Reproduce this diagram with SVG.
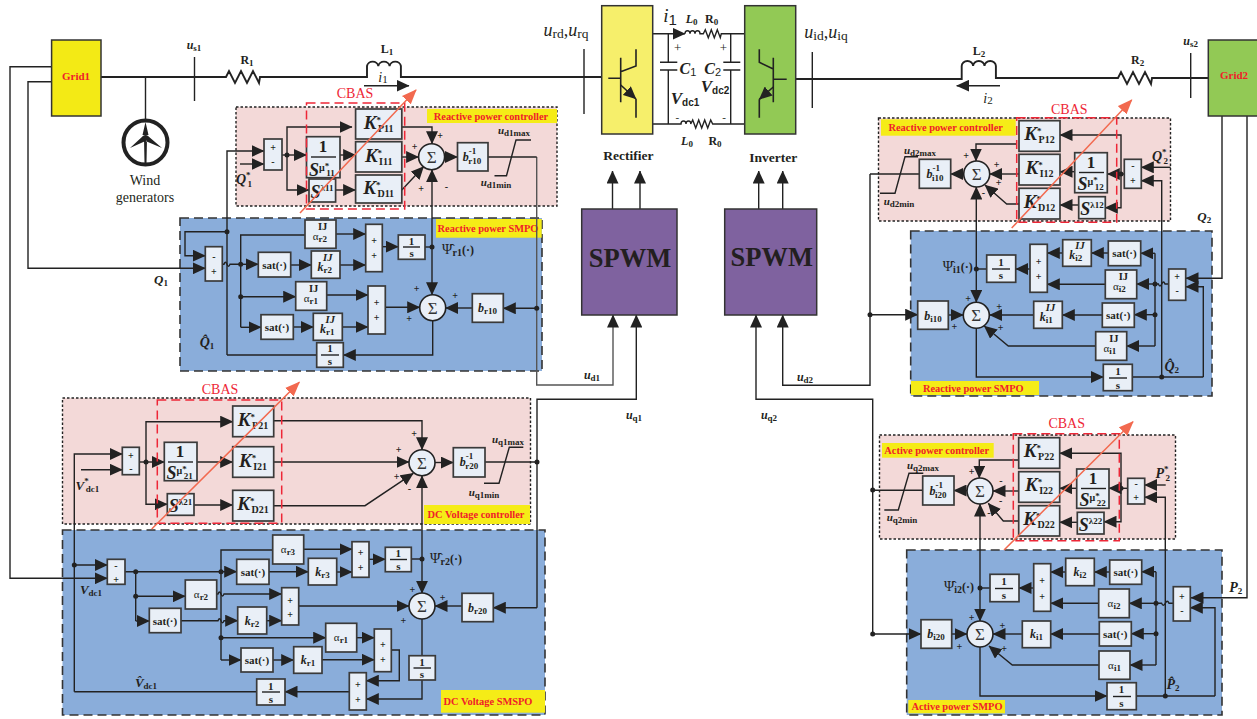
<svg xmlns="http://www.w3.org/2000/svg" width="1257" height="719" viewBox="0 0 1257 719">
<style>
text{font-family:"Liberation Serif","Times New Roman",serif;fill:#231f20;text-anchor:middle;font-weight:bold}
.pink{fill:#f3d9d8;stroke:#222;stroke-width:1.4;stroke-dasharray:2.5 2}
.blue{fill:#8aadda;stroke:#333;stroke-width:1.6;stroke-dasharray:9 5}
.yel{fill:#f5ec17}
.lab{fill:#f0202a;font-size:10.4px}
.b rect,rect.b{fill:#e9eff7;stroke:#3a3a3a;stroke-width:1.7}
.w{fill:none;stroke:#222;stroke-width:1.4}
.th{fill:none;stroke:#222;stroke-width:1.9}
.ig{fill:none;stroke:#222;stroke-width:1.6}
.ar{fill:none;stroke:#222;stroke-width:1.4;marker-end:url(#a)}
.dot{fill:#222}
.sum circle{fill:#e9eff7;stroke:#222;stroke-width:1.6}
.sum text{font-size:17px;font-weight:normal;fill:#333}
.p{font-size:10px}
.kk{font-size:19px;font-style:italic}
.su{font-size:9px;font-style:normal}
.sb{font-size:10px;font-style:normal}
.one{font-size:17px}
.big{font-size:18px;text-anchor:start;font-style:italic}
.ss{font-size:18px;font-style:italic}
.sat{font-size:11px}
.al{font-size:11px;font-weight:normal}
.ij{font-size:10.5px;font-weight:bold}
.lk{font-size:12px;font-style:italic}
.sl{font-size:9px;font-style:normal;font-weight:bold}
.v{font-size:12px;font-style:italic}
.ser{font-size:14px;font-weight:normal}
.cb{fill:#ee2737;font-size:14px;font-weight:normal}
.cbr{fill:none;stroke:#ee2737;stroke-width:1.5;stroke-dasharray:9 5}
.cba{fill:none;stroke:#f2694f;stroke-width:1.5;marker-end:url(#o)}
.spwm{font-size:26.5px}
.g{font-size:11px;fill:#f0202a}
.nm{font-size:13.5px}
.rr{font-size:12px}
.psi{font-size:14px;font-weight:normal}
.psb{font-size:10px;font-weight:bold}
.psp{font-size:12px;font-weight:bold}
.cap{font-size:16px;font-style:italic}
.vd{font-size:17px;font-style:italic}
.ssf{font-family:"Liberation Sans",sans-serif;font-style:normal}
</style>
<defs>
<marker id="a" markerUnits="userSpaceOnUse" markerWidth="13" markerHeight="12" refX="12.5" refY="6" orient="auto"><path d="M0 0L13 6L0 12z" fill="#222"/></marker>
<marker id="o" markerUnits="userSpaceOnUse" markerWidth="15" markerHeight="13" refX="14" refY="6.5" orient="auto"><path d="M0 .5L15 6.5L0 12.500z" fill="#f2694f"/></marker>
</defs>

<g id="panels">
<rect class="pink" x="236" y="107" width="321" height="99"/>
<rect class="blue" x="180" y="218" width="362" height="153"/>
<rect class="pink" x="62.500" y="398" width="468" height="126"/>
<rect class="blue" x="62.500" y="530" width="482.500" height="185"/>
<rect class="pink" x="878.500" y="118" width="292" height="103"/>
<rect class="blue" x="910.700" y="231" width="301.300" height="165"/>
<rect class="pink" x="879.500" y="435" width="296" height="104"/>
<rect class="blue" x="906.700" y="550" width="315.300" height="165"/>
<rect class="yel" x="427" y="109" width="130" height="14"/><text class="lab" x="491" y="120">Reactive power controller</text>
<rect class="yel" x="436" y="219" width="105.700" height="18.700"/><text class="lab" x="488" y="231.500">Reactive power SMPO</text>
<rect class="yel" x="424" y="505" width="106" height="19"/><text class="lab" x="476" y="518">DC Voltage controller</text>
<rect class="yel" x="441" y="690" width="104" height="22.700"/><text class="lab" x="488" y="705">DC Voltage SMSPO</text>
<rect class="yel" x="881" y="119.300" width="134.700" height="16.400"/><text class="lab" x="945.700" y="130.500">Reactive power controller</text>
<rect class="yel" x="911" y="381" width="128" height="14"/><text class="lab" x="973.300" y="392">Reactive power SMPO</text>
<rect class="yel" x="882" y="443" width="111.700" height="14.700"/><text class="lab" x="936.700" y="454">Active power controller</text>
<rect class="yel" x="908.300" y="700" width="96.700" height="13.300"/><text class="lab" x="957" y="710">Active power SMPO</text>
</g>

<g id="connectors">
<!-- power circuit -->
<path class="th" d="M101 77H226l3-6 6 12 6-12 6 12 6-12 6 12 1-6H367V66a5.700 5 0 0 1 11.300 0a5.700 5 0 0 1 11.300 0a5.700 5 0 0 1 11.300 0V77H601.700"/>
<path class="w" d="M145.500 77V122M194.500 57V101"/>
<path class="ar" d="M51.600 66.700H10V578.300H107.300"/>
<path class="ar" d="M51.600 81.700H28V268.300H205.300"/>
<path class="w" d="M584 49V114M812.300 52V108M1190.700 53V98"/>
<path class="th" d="M795.700 79H961.700V66a5.700 5 0 0 1 11.400 0a5.700 5 0 0 1 11.400 0a5.700 5 0 0 1 11.400 0V78H1118l3-6 6 12 6-12 6 12 6-12 6 12 1-6H1208.300"/>
<path class="ar" d="M1222 116V278.300H1186"/>
<path class="ar" d="M1247 116V597.700H1191"/>
<path class="ar" d="M364 85.700H409"/>
<path class="ar" d="M1000 85.700H956.700"/>
<path class="ar" d="M652.700 33.700H685"/>
<path class="w" d="M685 33.700q0-3 2.500-3t2.500 3q0-3 2.500-3t2.500 3q0-3 2.500-3t2.500 3H703.300l2-4 3 8 3-8 3 8 3-8 3 8 1-4H744.700"/>
<path class="w" d="M652.700 124H681q0-3 2.500-3t2.500 3q0-3 2.500-3t2.200 3l2-4 3 8 3-8 3 8 3-8 3 8 3-8 2 4H744.700"/>
<path class="w" d="M668.300 33.700V62.300M660 62.300H677.300M660 70H677.300M668.300 70V124M730.700 33.700V62.300M723.300 62.300H740.300M723.300 70H740.300M730.700 70V124"/>
<!-- SPWM -->
<path class="ar" d="M612.500 209V171"/><path class="ar" d="M640 209V171"/><path class="ar" d="M758.700 209V171"/><path class="ar" d="M782.700 209V171"/>
<path class="ar" style="stroke:#555" d="M536.700 157V385H613V315"/>
<path class="ar" d="M537 607.700V399.300H636.300V315"/>
<path class="ar" d="M872.700 634V399.300H756V315"/>
<path class="ar" d="M870 174V385.300H782.700V315"/>

<!-- reactive power controller 1 -->
<path class="ar" d="M227 355V151H264"/>
<path class="ar" d="M240 164H264"/>
<path class="w" d="M282 155H287"/>
<path class="ar" d="M287 155H306.500"/>
<path class="ar" d="M287 155V127H352"/>
<path class="ar" d="M287 155V190H309"/>
<path class="ar" d="M340 155H355.600"/><path class="ar" d="M335.600 190H355.600"/>
<path class="ar" d="M401.800 127H432V143.700"/>
<path class="ar" d="M401.800 157H418.600"/>
<path class="ar" d="M401.800 190L423.600 166.700"/>
<path class="ar" d="M444.600 157H457.500"/>
<path class="w" d="M488 157H536.700"/>
<path class="w" d="M531 140H516L506.500 175.700H494.500"/>
<path class="ar" d="M432 247V169.700"/>
<!-- SMPO 1 -->
<path class="ar" d="M227 231.700H185V255.700H205.300"/>
<path class="w" d="M222.300 264.300H224q1.500-4 3 0t3 0H240.700"/>
<path class="ar" d="M240.700 264.300H258.300"/>
<path class="w" d="M305 235H240.700V327.300"/>
<path class="ar" d="M240.700 296.700H295.700"/>
<path class="ar" d="M240.700 327.300H261"/>
<path class="ar" d="M290.700 265H311.300"/>
<path class="ar" d="M336 234H365.700"/>
<path class="ar" d="M340 265H365.700"/>
<path class="ar" d="M382.300 246.700H398.300"/>
<path class="w" d="M425 247H432"/>
<path class="ar" d="M432 247V294.700"/>
<path class="ar" d="M326.700 295H368"/>
<path class="ar" d="M293.300 327H313.300"/>
<path class="ar" d="M342.300 327H368"/>
<path class="ar" d="M385.300 307.300H419.700"/>
<path class="ar" d="M536.700 308.300H503.300"/>
<path class="ar" d="M472.300 308H445.700"/>
<path class="ar" d="M432.700 320.700V355H343.300"/>
<path class="w" d="M316.700 355H227"/>

<!-- DC voltage controller -->
<path class="ar" d="M74.300 691.700V454H122.300"/>
<path class="ar" d="M81 469.700H122.300"/>
<path class="w" d="M139.300 462H146"/>
<path class="ar" d="M146 462H164.300"/>
<path class="ar" d="M146 462V421.700H232.700"/>
<path class="ar" d="M146 462V504.300H167.300"/>
<path class="ar" d="M197 462H232.700"/><path class="ar" d="M194 505H232.700"/>
<path class="ar" d="M273.700 420.700H422V449.700"/>
<path class="ar" d="M273.700 462H409"/>
<path class="ar" d="M273.700 505.700H365L413.300 473.300"/>
<path class="ar" d="M435 462.500H453.300"/>
<path class="w" d="M485 462H537"/>
<path class="w" d="M523.300 447.300H509.300L499 483.300H484"/>
<path class="ar" d="M422 559V475.700"/>
<!-- DC SMSPO -->
<path class="ar" d="M74.300 565H107.300"/>
<path class="w" d="M125 571.700H221"/>
<path class="ar" d="M221 571.700H236.700"/>
<path class="w" d="M135.700 571.700V621"/>
<path class="ar" d="M135.700 596.300H185.300"/>
<path class="ar" d="M135.700 621H149.300"/>
<path class="w" d="M272.700 550H221V660"/>
<path class="ar" d="M269 571.700H308.300"/>
<path class="ar" d="M303.700 549.300H352"/>
<path class="ar" d="M336.700 572H352"/>
<path class="ar" d="M369 559.300H385.300"/>
<path class="w" d="M411.300 559H422"/>
<path class="ar" d="M422 559V593.300"/>
<path class="ar" d="M216.700 594H218q1.500-4 3 0t3 0H281.700"/>
<path class="ar" d="M181 620.700H218q1.500-4 3 0t3 0H237.700"/>
<path class="ar" d="M266.700 620.700H281.700"/>
<path class="ar" d="M298.700 606H409"/>
<path class="ar" d="M221 637.700H325.700"/>
<path class="ar" d="M221 660H241"/>
<path class="ar" d="M273 660H293.700"/>
<path class="ar" d="M356.700 637.700H374.300"/>
<path class="ar" d="M322 659.700H374.300"/>
<path class="ar" d="M391.300 650H399.300V680.700H366.300"/>
<path class="w" d="M422 619V655.700"/>
<path class="ar" d="M422 680V699H366.300"/>
<path class="ar" d="M349.300 691.700H285"/>
<path class="w" d="M256.700 691.700H74.300"/>
<path class="ar" d="M537 607.700H493.300"/>
<path class="ar" d="M462 606H435"/>

<!-- reactive power controller 2 -->
<path class="ar" d="M1170.700 167.300H1141.300"/>
<path class="ar" d="M1161.700 377V180.700H1141.300"/>
<path class="w" d="M1124.300 174H1121"/>
<path class="ar" d="M1121 174H1107.300"/>
<path class="ar" d="M1121 174V135H1060"/>
<path class="ar" d="M1121 174V207.700H1105.300"/>
<path class="ar" d="M1074.700 171.700H1060"/>
<path class="ar" d="M1078.700 205H1060"/>
<path class="ar" d="M1016 144H976V161"/>
<path class="ar" d="M1019 174H989.700"/>
<path class="ar" d="M1019 204H1006.700L985 185"/>
<path class="ar" d="M963.700 174H950.700"/>
<path class="w" d="M919.300 174H870"/>
<path class="w" d="M918 156.700H905L895 193.300H880"/>
<path class="ar" d="M976.300 269V187"/>
<!-- SMPO 2 -->
<path class="ar" d="M1203.300 377V286.700H1186"/>
<path class="w" d="M1168.700 284H1165q-1.500-4-3.300 0t-3.300 0H1155"/>
<path class="w" d="M1155 253.300V346"/>
<path class="ar" d="M1155 253.300H1140.700"/>
<path class="ar" d="M1108.300 253H1091.300"/>
<path class="ar" d="M1062.700 253H1047.300"/>
<path class="ar" d="M1030 269H1015.700"/>
<path class="w" d="M986.700 269H976.300"/>
<path class="ar" d="M976.300 269V302.300"/>
<path class="ar" d="M1155 284H1136.700"/>
<path class="ar" d="M1105.300 284.300H1047.300"/>
<path class="ar" d="M1155 314.700H1134.300"/>
<path class="ar" d="M1102.300 315H1062.300"/>
<path class="ar" d="M1033.700 315H989.700"/>
<path class="ar" d="M1155 346H1126.700"/>
<path class="ar" d="M1095.700 346H1008.300L984.300 326"/>
<path class="ar" d="M870 314.700H917.700"/>
<path class="ar" d="M948.300 315H963.300"/>
<path class="ar" d="M976.300 328.300V377H1103.300"/>
<path class="w" d="M1132.300 377H1203.300"/>

<!-- active power controller -->
<path class="ar" d="M1165.700 485H1144.700"/>
<path class="ar" d="M1165.300 696V497.300H1144.700"/>
<path class="w" d="M1127.700 488.300H1121"/>
<path class="ar" d="M1121 488.300H1109"/>
<path class="ar" d="M1121 488.300V453.300H1059.700"/>
<path class="ar" d="M1121 488.300V521.700H1104"/>
<path class="ar" d="M1076.700 488.300H1059.700"/>
<path class="ar" d="M1077.300 522.300H1059.700"/>
<path class="ar" d="M1018.700 460H979.300V478"/>
<path class="ar" d="M1018.700 491H993"/>
<path class="ar" d="M1018.700 521H1003.300L988.300 503.300"/>
<path class="ar" d="M967 490.500H954"/>
<path class="w" d="M922.700 490.300H872.700"/>
<path class="w" d="M923.300 473.300H909L898.300 510H884.300"/>
<path class="ar" d="M980 588V504"/>
<!-- SMPO active -->
<path class="ar" d="M1215 696V607.700H1190.300"/>
<path class="w" d="M1173.300 603.300H1169q-1.700-4-3.700 0t-3.700 0H1156"/>
<path class="w" d="M1156 571.700V665"/>
<path class="ar" d="M1156 571.700H1141.700"/>
<path class="ar" d="M1109.700 572H1094.300"/>
<path class="ar" d="M1065.700 572H1050.700"/>
<path class="ar" d="M1033.700 588H1019"/>
<path class="w" d="M990 588H980"/>
<path class="ar" d="M980 588V621"/>
<path class="ar" d="M1156 603.300H1129.300"/>
<path class="ar" d="M1098.700 603.300H1050.700"/>
<path class="ar" d="M1156 633.700H1131.300"/>
<path class="ar" d="M1099.300 634H1050.700"/>
<path class="ar" d="M1022.300 634H993"/>
<path class="ar" d="M1156 665H1130"/>
<path class="ar" d="M1099 665H1012.300L989 646"/>
<path class="ar" d="M872.700 634H921"/>
<path class="ar" d="M951.700 634H967"/>
<path class="ar" d="M980 647V696H1107"/>
<path class="w" d="M1136.300 696H1215"/>
<!-- junctions -->
<g class="dot">
<circle cx="287" cy="155" r="2.500"/><circle cx="227" cy="231.700" r="2.500"/><circle cx="240.700" cy="264.300" r="2.500"/><circle cx="240.700" cy="296.700" r="2.500"/><circle cx="432" cy="247" r="2.500"/><circle cx="536.700" cy="308.300" r="2.500"/>
<circle cx="146" cy="462" r="2.500"/><circle cx="537" cy="462" r="2.500"/><circle cx="74.300" cy="565" r="2.500"/><circle cx="135.700" cy="571.700" r="2.500"/><circle cx="135.700" cy="596.300" r="2.500"/><circle cx="221" cy="571.700" r="2.500"/><circle cx="221" cy="637.700" r="2.500"/><circle cx="422" cy="559" r="2.500"/>
<circle cx="1121" cy="174" r="2.500"/><circle cx="870" cy="314.700" r="2.500"/><circle cx="976.300" cy="269" r="2.500"/><circle cx="1155" cy="284" r="2.500"/><circle cx="1155" cy="314.700" r="2.500"/><circle cx="1161.700" cy="377" r="2.500"/>
<circle cx="1121" cy="488.300" r="2.500"/><circle cx="872.700" cy="490" r="2.500"/><circle cx="872.700" cy="634" r="2.500"/><circle cx="980" cy="588" r="2.500"/><circle cx="1156" cy="603.300" r="2.500"/><circle cx="1156" cy="633.700" r="2.500"/><circle cx="1165.300" cy="696" r="2.500"/>
</g>
</g>

<g id="grid1"><rect x="51.600" y="40" width="49.400" height="76" fill="#f3ea15" stroke="#333" stroke-width="1.5"/><text class="g" x="76" y="80">Grid1</text></g>
<g id="grid2"><rect x="1208.300" y="40" width="50" height="76" fill="#92c955" stroke="#333" stroke-width="1.5"/><text class="g" x="1234" y="79">Grid2</text></g>
<g id="wind"><circle cx="145.500" cy="142.500" r="22" fill="#fff" stroke="#222" stroke-width="4"/><path d="M145.500 122L148.500 135H142.500zM130 148L143 136L145.500 141zM162 148L148 136L145.500 141zM144 138H147L146.500 163H144.500z" fill="#222"/><circle cx="145.500" cy="138" r="3" fill="#222"/><text class="ser" x="145" y="185">Wind</text><text class="ser" x="145" y="202">generators</text></g>
<g id="rectifier"><rect x="601.700" y="5.700" width="51" height="128.300" fill="#f6ef6b" stroke="#333" stroke-width="1.5"/>
<path class="ig" d="M620.700 57.700V102.300M608.300 78.300H620.700M620.700 71.700L636 66V49.300M636 99V117.700"/><path class="ig" d="M620.700 85L636 99" marker-end="url(#a)"/><text class="nm" x="628.300" y="160">Rectifier</text></g>
<g id="inverter"><rect x="744.700" y="5.700" width="51" height="128.300" fill="#92c955" stroke="#333" stroke-width="1.5"/>
<path class="ig" d="M773.300 57.700V102.300M786.700 79.300H773.300M773.300 69L759.300 62.300V49.300M759.300 99.300V117.700"/><path class="ig" d="M773.300 87L759.300 99.300" marker-end="url(#a)"/><text class="nm" x="773.300" y="162">Inverter</text></g>
<g id="spwm1"><rect x="581.700" y="209" width="95.300" height="106" fill="#7f629f" stroke="#333" stroke-width="1.5"/><text class="spwm" x="630" y="267">SPWM</text></g>
<g id="spwm2"><rect x="724.700" y="209" width="92" height="106" fill="#7f629f" stroke="#333" stroke-width="1.5"/><text class="spwm" x="771.700" y="266">SPWM</text></g>

<!-- Controller 1 -->
<g class="b" id="pm11"><rect x="264" y="139" width="18" height="31"/><text class="p" x="273" y="151">+</text><text class="p" x="273" y="165">-</text></g>
<g class="b" id="fo11"><rect x="306.500" y="136.700" width="33.500" height="41"/><text class="one" x="323" y="151.500">1</text><path class="w" d="M311 157H336"/><text class="big" x="309" y="175.500">S<tspan class="sb" dy="-5">μ</tspan><tspan class="su" dy="-2">*</tspan><tspan class="su" dx="-3" dy="7">11</tspan></text></g>
<g class="b" id="sl11"><rect x="309" y="179" width="26.600" height="23"/><text class="ss" x="322" y="198">S<tspan class="su" dy="-7">λ11</tspan></text></g>
<g class="b" id="kp11"><rect x="355.600" y="109" width="46.200" height="30"/><text class="kk" x="378.700" y="129">K<tspan class="su" dy="-6">*</tspan><tspan class="sb" dx="-3" dy="9">P11</tspan></text></g>
<g class="b" id="ki11"><rect x="355.600" y="141.700" width="46.200" height="30.300"/><text class="kk" x="378.700" y="162">K<tspan class="su" dy="-6">*</tspan><tspan class="sb" dx="-3" dy="9">I11</tspan></text></g>
<g class="b" id="kd11"><rect x="355.600" y="175" width="46.200" height="28"/><text class="kk" x="378.700" y="194">K<tspan class="su" dy="-6">*</tspan><tspan class="sb" dx="-3" dy="9">D11</tspan></text></g>
<g class="sum" id="sum11"><circle cx="431.600" cy="156.700" r="13"/><text x="431.600" y="162.500">Σ</text></g>
<g class="b" id="br10i"><rect x="457.500" y="142.700" width="30.500" height="28.300"/><text class="lk" x="472" y="161">b<tspan class="sl" dy="-7">-1</tspan><tspan class="sl" dx="-8" dy="10">r10</tspan></text></g>
<!-- SMPO 1 -->
<g class="b" id="mp1"><rect x="205.300" y="246.700" width="17" height="34.300"/><text class="p" x="213.800" y="260">-</text><text class="p" x="213.800" y="275">+</text></g>
<g class="b" id="ar2"><rect x="305" y="220" width="31" height="28.300"/><text class="al" x="320" y="240">α<tspan class="sl" dy="2">r2</tspan><tspan class="ij" dx="-9" dy="-12">IJ</tspan></text></g>
<g class="b" id="sat1"><rect x="258.300" y="252.300" width="32.400" height="24.700"/><text class="sat" x="274.500" y="268.500">sat(·)</text></g>
<g class="b" id="kr2"><rect x="311.300" y="251" width="28.700" height="27.300"/><text class="lk" x="325" y="271">k<tspan class="sl" dy="2">r2</tspan><tspan class="ij" dx="-9" dy="-12">IJ</tspan></text></g>
<g class="b" id="pp1"><rect x="365.700" y="224.300" width="16.600" height="47.400"/><text class="p" x="374" y="244">+</text><text class="p" x="374" y="259">+</text></g>
<g class="b" id="int1"><rect x="398.300" y="235" width="26.700" height="24.300"/><text class="sat" x="411.600" y="244.500">1</text><path class="w" d="M403 247H420"/><text class="sat" x="411.600" y="257">s</text></g>
<g class="b" id="ar1"><rect x="295.700" y="281.700" width="31" height="28.600"/><text class="al" x="311" y="302">α<tspan class="sl" dy="2">r1</tspan><tspan class="ij" dx="-9" dy="-12">IJ</tspan></text></g>
<g class="b" id="sat2"><rect x="261" y="314.700" width="32.300" height="24.600"/><text class="sat" x="277" y="331">sat(·)</text></g>
<g class="b" id="kr1"><rect x="313.300" y="313.300" width="29" height="27"/><text class="lk" x="327.500" y="333">k<tspan class="sl" dy="2">r1</tspan><tspan class="ij" dx="-9" dy="-12">IJ</tspan></text></g>
<g class="b" id="pp2"><rect x="368" y="286" width="17.300" height="48"/><text class="p" x="376.600" y="306">+</text><text class="p" x="376.600" y="321">+</text></g>
<g class="sum" id="sum12"><circle cx="432.700" cy="307.700" r="13"/><text x="432.700" y="313.500">Σ</text></g>
<g class="b" id="br10"><rect x="472.300" y="293.700" width="31" height="28.600"/><text class="lk" x="487.500" y="312">b<tspan class="sl" dy="2">r10</tspan></text></g>
<g class="b" id="int2"><rect x="316.700" y="342.700" width="26.600" height="24.600"/><text class="sat" x="330" y="352">1</text><path class="w" d="M321 355H339"/><text class="sat" x="330" y="365">s</text></g>

<!-- DC controller -->
<g class="b" id="pm21"><rect x="122.300" y="447.300" width="17" height="27.400"/><text class="p" x="130.800" y="458.500">+</text><text class="p" x="130.800" y="472">-</text></g>
<g class="b" id="fo21"><rect x="164.300" y="442.300" width="32.700" height="38.400"/><text class="one" x="180" y="456.500">1</text><path class="w" d="M168 462H193"/><text class="big" x="166.500" y="478.500">S<tspan class="sb" dy="-5">μ</tspan><tspan class="su" dy="-2">*</tspan><tspan class="su" dx="-3" dy="7">21</tspan></text></g>
<g class="b" id="sl21"><rect x="167.300" y="493.700" width="26.700" height="21.600"/><text class="ss" x="180.500" y="512">S<tspan class="su" dy="-7">λ21</tspan></text></g>
<g class="b" id="kp21"><rect x="232.700" y="406" width="41" height="30.700"/><text class="kk" x="253" y="426">K<tspan class="su" dy="-6">*</tspan><tspan class="sb" dx="-3" dy="9">P21</tspan></text></g>
<g class="b" id="ki21"><rect x="232.700" y="446.700" width="41" height="30.600"/><text class="kk" x="253" y="467">K<tspan class="su" dy="-6">*</tspan><tspan class="sb" dx="-3" dy="9">I21</tspan></text></g>
<g class="b" id="kd21"><rect x="232.700" y="490.300" width="41" height="30.700"/><text class="kk" x="253" y="510">K<tspan class="su" dy="-6">*</tspan><tspan class="sb" dx="-3" dy="9">D21</tspan></text></g>
<g class="sum" id="sum21"><circle cx="422" cy="462.700" r="13"/><text x="422" y="468.500">Σ</text></g>
<g class="b" id="br20i"><rect x="453.300" y="447.700" width="31.700" height="29.300"/><text class="lk" x="469" y="466">b<tspan class="sl" dy="-7">-1</tspan><tspan class="sl" dx="-8" dy="10">r20</tspan></text></g>
<!-- DC SMSPO -->
<g class="b" id="mp3"><rect x="107.300" y="559.300" width="17.700" height="25"/><text class="p" x="116" y="569">-</text><text class="p" x="116" y="583">+</text></g>
<g class="b" id="a3"><rect x="272.700" y="535" width="31" height="29"/><text class="al" x="288" y="553">α<tspan class="sl" dy="2">r3</tspan></text></g>
<g class="b" id="sat3"><rect x="236.700" y="559.300" width="32.300" height="25"/><text class="sat" x="253" y="576">sat(·)</text></g>
<g class="b" id="k3"><rect x="308.300" y="558.300" width="28.400" height="26.700"/><text class="lk" x="322.500" y="576">k<tspan class="sl" dy="2">r3</tspan></text></g>
<g class="b" id="pp3"><rect x="352" y="541.700" width="17" height="35.600"/><text class="p" x="360.500" y="556">+</text><text class="p" x="360.500" y="571">+</text></g>
<g class="b" id="int3"><rect x="385.300" y="547.300" width="26" height="24.400"/><text class="sat" x="398.300" y="557">1</text><path class="w" d="M390 559.500H407"/><text class="sat" x="398.300" y="570">s</text></g>
<g class="b" id="a2"><rect x="185.300" y="580" width="31.400" height="29"/><text class="al" x="201" y="598">α<tspan class="sl" dy="2">r2</tspan></text></g>
<g class="b" id="sat4"><rect x="149.300" y="608.300" width="31.700" height="24.400"/><text class="sat" x="165" y="624.500">sat(·)</text></g>
<g class="b" id="k2"><rect x="237.700" y="607" width="29" height="27"/><text class="lk" x="252" y="625">k<tspan class="sl" dy="2">r2</tspan></text></g>
<g class="b" id="pp4"><rect x="281.700" y="587.700" width="17" height="37.300"/><text class="p" x="290.200" y="603.500">+</text><text class="p" x="290.200" y="618">+</text></g>
<g class="sum" id="sum22"><circle cx="422" cy="606" r="13"/><text x="422" y="612">Σ</text></g>
<g class="b" id="br20"><rect x="462" y="593.300" width="31.300" height="28.400"/><text class="lk" x="477.500" y="612">b<tspan class="sl" dy="2">r20</tspan></text></g>
<g class="b" id="a1"><rect x="325.700" y="623.300" width="31" height="28.700"/><text class="al" x="341" y="641">α<tspan class="sl" dy="2">r1</tspan></text></g>
<g class="b" id="sat5"><rect x="241" y="648" width="32" height="24"/><text class="sat" x="257" y="664">sat(·)</text></g>
<g class="b" id="k1"><rect x="293.700" y="646.700" width="28.300" height="26.600"/><text class="lk" x="308" y="664">k<tspan class="sl" dy="2">r1</tspan></text></g>
<g class="b" id="pp5"><rect x="374.300" y="629" width="17" height="42.700"/><text class="p" x="382.800" y="647.500">+</text><text class="p" x="382.800" y="662.500">+</text></g>
<g class="b" id="int4"><rect x="409" y="655.700" width="26.300" height="24.300"/><text class="sat" x="422" y="665.500">1</text><path class="w" d="M413.500 668H431"/><text class="sat" x="422" y="678">s</text></g>
<g class="b" id="pp6"><rect x="349.300" y="672.700" width="17" height="37.300"/><text class="p" x="357.800" y="688">+</text><text class="p" x="357.800" y="703">+</text></g>
<g class="b" id="int5"><rect x="256.700" y="679" width="28.300" height="26"/><text class="sat" x="270.800" y="689.500">1</text><path class="w" d="M262 692H280"/><text class="sat" x="270.800" y="703">s</text></g>

<!-- Controller 2 -->
<g class="b" id="kp12"><rect x="1019" y="120.700" width="41" height="30.600"/><text class="kk" x="1039.500" y="140">K<tspan class="su" dy="-6">*</tspan><tspan class="sb" dx="-3" dy="9">P12</tspan></text></g>
<g class="b" id="ki12"><rect x="1019" y="154.300" width="41" height="30.700"/><text class="kk" x="1039.500" y="174">K<tspan class="su" dy="-6">*</tspan><tspan class="sb" dx="-3" dy="9">I12</tspan></text></g>
<g class="b" id="kd12"><rect x="1019" y="188.300" width="41" height="30.700"/><text class="kk" x="1039.500" y="208">K<tspan class="su" dy="-6">*</tspan><tspan class="sb" dx="-3" dy="9">D12</tspan></text></g>
<g class="b" id="fo12"><rect x="1074.700" y="152.700" width="32.600" height="40"/><text class="one" x="1091" y="167.500">1</text><path class="w" d="M1079 172.500H1104"/><text class="big" x="1077.500" y="190">S<tspan class="sb" dy="-5">μ</tspan><tspan class="su" dy="-2">*</tspan><tspan class="su" dx="-3" dy="7">12</tspan></text></g>
<g class="b" id="sl12"><rect x="1078.700" y="196.700" width="26.600" height="22"/><text class="ss" x="1092" y="215">S<tspan class="su" dy="-7">λ12</tspan></text></g>
<g class="b" id="mp12"><rect x="1124.300" y="159.300" width="17" height="29"/><text class="p" x="1132.800" y="168.500">-</text><text class="p" x="1132.800" y="183.500">+</text></g>
<g class="sum" id="sum31"><circle cx="976.700" cy="174" r="13"/><text x="976.700" y="180">Σ</text></g>
<g class="b" id="bi10i"><rect x="919.300" y="159.300" width="31.400" height="29"/><text class="lk" x="935" y="178">b<tspan class="sl" dy="-7">-1</tspan><tspan class="sl" dx="-8" dy="10">i10</tspan></text></g>
<!-- SMPO 2 -->
<g class="b" id="mp4"><rect x="1168.700" y="269" width="17" height="31.300"/><text class="p" x="1177.200" y="280">+</text><text class="p" x="1177.200" y="294">-</text></g>
<g class="b" id="sat6"><rect x="1108.300" y="241" width="32.400" height="24.700"/><text class="sat" x="1124.500" y="257">sat(·)</text></g>
<g class="b" id="ki2a"><rect x="1062.700" y="239.700" width="28.600" height="26.600"/><text class="lk" x="1077" y="259">k<tspan class="sl" dy="2">i2</tspan><tspan class="ij" dx="-7" dy="-12">IJ</tspan></text></g>
<g class="b" id="pp7"><rect x="1030" y="244.300" width="17.300" height="48"/><text class="p" x="1038.700" y="265">+</text><text class="p" x="1038.700" y="279.500">+</text></g>
<g class="b" id="int6"><rect x="986.700" y="255" width="29" height="27.300"/><text class="sat" x="1001" y="265.500">1</text><path class="w" d="M992 269H1010"/><text class="sat" x="1001" y="279">s</text></g>
<g class="b" id="ai2a"><rect x="1105.300" y="270" width="31.400" height="28.700"/><text class="al" x="1120.500" y="290">α<tspan class="sl" dy="2">i2</tspan><tspan class="ij" dx="-7" dy="-12">IJ</tspan></text></g>
<g class="b" id="sat7"><rect x="1102.300" y="303" width="32" height="24.300"/><text class="sat" x="1118.300" y="319">sat(·)</text></g>
<g class="b" id="ki1a"><rect x="1033.700" y="301.300" width="28.600" height="27"/><text class="lk" x="1047.500" y="321">k<tspan class="sl" dy="2">i1</tspan><tspan class="ij" dx="-7" dy="-12">IJ</tspan></text></g>
<g class="b" id="ai1a"><rect x="1095.700" y="331.700" width="31" height="28.600"/><text class="al" x="1111" y="352">α<tspan class="sl" dy="2">i1</tspan><tspan class="ij" dx="-7" dy="-12">IJ</tspan></text></g>
<g class="sum" id="sum32"><circle cx="976.300" cy="315.300" r="13"/><text x="976.300" y="321">Σ</text></g>
<g class="b" id="bi10"><rect x="917.700" y="301" width="30.600" height="28.300"/><text class="lk" x="933" y="319.500">b<tspan class="sl" dy="2">i10</tspan></text></g>
<g class="b" id="int7"><rect x="1103.300" y="364.300" width="29" height="26.400"/><text class="sat" x="1118" y="375">1</text><path class="w" d="M1109 378H1127"/><text class="sat" x="1118" y="388.500">s</text></g>

<!-- Active controller -->
<g class="b" id="kp22"><rect x="1018.700" y="437.700" width="41" height="30.600"/><text class="kk" x="1039" y="457">K<tspan class="su" dy="-6">*</tspan><tspan class="sb" dx="-3" dy="9">P22</tspan></text></g>
<g class="b" id="ki22"><rect x="1018.700" y="471.700" width="41" height="30.600"/><text class="kk" x="1039" y="491">K<tspan class="su" dy="-6">*</tspan><tspan class="sb" dx="-3" dy="9">I22</tspan></text></g>
<g class="b" id="kd22"><rect x="1018.700" y="505.700" width="41" height="30.300"/><text class="kk" x="1039" y="525">K<tspan class="su" dy="-6">*</tspan><tspan class="sb" dx="-3" dy="9">D22</tspan></text></g>
<g class="b" id="fo22"><rect x="1076.700" y="469" width="32.300" height="39.300"/><text class="one" x="1093" y="483.500">1</text><path class="w" d="M1081 488.500H1106"/><text class="big" x="1079.500" y="505.500">S<tspan class="sb" dy="-5">μ</tspan><tspan class="su" dy="-2">*</tspan><tspan class="su" dx="-3" dy="7">22</tspan></text></g>
<g class="b" id="sl22"><rect x="1077.300" y="512.300" width="26.700" height="21.700"/><text class="ss" x="1090.500" y="531">S<tspan class="su" dy="-7">λ22</tspan></text></g>
<g class="b" id="mp22"><rect x="1127.700" y="478.300" width="17" height="25.700"/><text class="p" x="1136.200" y="486.500">-</text><text class="p" x="1136.200" y="501">+</text></g>
<g class="sum" id="sum41"><circle cx="980" cy="491" r="13"/><text x="980" y="497">Σ</text></g>
<g class="b" id="bi20i"><rect x="922.700" y="476" width="31.300" height="29"/><text class="lk" x="938" y="495">b<tspan class="sl" dy="-7">-1</tspan><tspan class="sl" dx="-8" dy="10">i20</tspan></text></g>
<!-- SMPO active -->
<g class="b" id="mp5"><rect x="1173.300" y="586.700" width="17" height="34.300"/><text class="p" x="1181.800" y="599.500">+</text><text class="p" x="1181.800" y="614">-</text></g>
<g class="b" id="sat8"><rect x="1109.700" y="560" width="32" height="24.300"/><text class="sat" x="1125.700" y="576">sat(·)</text></g>
<g class="b" id="ki2"><rect x="1065.700" y="558.300" width="28.600" height="27.400"/><text class="lk" x="1080" y="576">k<tspan class="sl" dy="2">i2</tspan></text></g>
<g class="b" id="pp8"><rect x="1033.700" y="563.700" width="17" height="47.600"/><text class="p" x="1042.200" y="584">+</text><text class="p" x="1042.200" y="599.500">+</text></g>
<g class="b" id="int8"><rect x="990" y="574.300" width="29" height="27.400"/><text class="sat" x="1004" y="585">1</text><path class="w" d="M995 588.500H1013"/><text class="sat" x="1004" y="599">s</text></g>
<g class="b" id="ai2"><rect x="1098.700" y="589" width="30.600" height="28.700"/><text class="al" x="1114" y="607">α<tspan class="sl" dy="2">i2</tspan></text></g>
<g class="b" id="sat9"><rect x="1099.300" y="621.700" width="32" height="24.300"/><text class="sat" x="1115.300" y="638">sat(·)</text></g>
<g class="b" id="ki1"><rect x="1022.300" y="621" width="28.400" height="26.700"/><text class="lk" x="1036.500" y="638">k<tspan class="sl" dy="2">i1</tspan></text></g>
<g class="b" id="ai1"><rect x="1099" y="651" width="31" height="28.300"/><text class="al" x="1114.500" y="669">α<tspan class="sl" dy="2">i1</tspan></text></g>
<g class="sum" id="sum42"><circle cx="980" cy="634" r="13"/><text x="980" y="640">Σ</text></g>
<g class="b" id="bi20"><rect x="921" y="619.700" width="30.700" height="28.600"/><text class="lk" x="936" y="638">b<tspan class="sl" dy="2">i20</tspan></text></g>
<g class="b" id="int9"><rect x="1107" y="682.700" width="29.300" height="27"/><text class="sat" x="1121.500" y="693">1</text><path class="w" d="M1113 696.500H1131"/><text class="sat" x="1121.500" y="707">s</text></g>

<!-- CBAS -->
<g id="cbas">
<rect class="cbr" x="306.500" y="103" width="98.200" height="106"/><path class="cba" d="M300 213L416 90"/><text class="cb" x="355" y="98">CBAS</text>
<rect class="cbr" x="157.300" y="400" width="124.400" height="123.300"/><path class="cba" d="M151.700 529L299.300 382.300"/><text class="cb" x="220" y="394">CBAS</text>
<rect class="cbr" x="1016.700" y="117.700" width="100" height="104.600"/><path class="cba" d="M1011.700 228L1131.700 100"/><text class="cb" x="1069.300" y="114">CBAS</text>
<rect class="cbr" x="1013.300" y="433.700" width="106" height="107"/><path class="cba" d="M1004 550L1133 421.700"/><text class="cb" x="1066.700" y="428">CBAS</text>
</g>

<!-- Labels -->
<g id="labels">
<text class="v" x="194" y="49">u<tspan class="sl" dy="2">s1</tspan></text>
<text class="rr" x="247" y="64">R<tspan class="sl" dy="2">1</tspan></text>
<text class="rr" x="387" y="53">L<tspan class="sl" dy="2">1</tspan></text>
<text x="383" y="82" style="font-size:14px;font-style:italic;font-weight:normal">i<tspan style="font-size:11px;font-style:normal" dy="1">1</tspan></text>
<text x="566" y="36" style="font-size:18px;font-style:italic;font-weight:normal">u<tspan style="font-size:13.500px;font-style:normal" dy="2">rd</tspan><tspan dy="-2" style="font-style:normal">,</tspan>u<tspan style="font-size:13.500px;font-style:normal" dy="2">rq</tspan></text>
<text x="826" y="38" style="font-size:18px;font-style:italic;font-weight:normal">u<tspan style="font-size:13.500px;font-style:normal" dy="2">id</tspan><tspan dy="-2" style="font-style:normal">,</tspan>u<tspan style="font-size:13.500px;font-style:normal" dy="2">iq</tspan></text>
<text x="670" y="22" style="font-size:19px;font-style:italic;font-weight:normal">i<tspan class="ssf" style="font-size:15px" dy="3">1</tspan></text>
<text class="rr" x="691.700" y="23" style="font-style:italic">L<tspan class="sl" dy="2">0</tspan></text>
<text class="rr" x="711.700" y="23">R<tspan class="sl" dy="2">0</tspan></text>
<text x="677.700" y="52" style="font-size:13px;font-weight:normal">+</text><text x="723.300" y="52" style="font-size:13px;font-weight:normal">+</text>
<text class="cap" x="688" y="74">C<tspan class="ssf" style="font-size:11px;font-weight:normal" dy="2">1</tspan></text>
<text class="cap" x="712.700" y="74">C<tspan class="ssf" style="font-size:11px;font-weight:normal" dy="2">2</tspan></text>
<text class="vd" x="715" y="92">V<tspan class="ssf" style="font-size:10px" dy="2">dc2</tspan></text>
<text class="vd" x="685" y="104">V<tspan class="ssf" style="font-size:10px" dy="2">dc1</tspan></text>
<text x="677.300" y="121" style="font-size:11px;font-weight:normal">-</text><text x="724" y="121" style="font-size:11px;font-weight:normal">-</text>
<text class="rr" x="687" y="145" style="font-style:italic">L<tspan class="sl" dy="2">0</tspan></text>
<text class="rr" x="715" y="145">R<tspan class="sl" dy="2">0</tspan></text>
<text class="v" x="592" y="379">u<tspan class="sl" dy="2">d1</tspan></text>
<text class="v" x="634" y="419">u<tspan class="sl" dy="2">q1</tspan></text>
<text class="v" x="769" y="419">u<tspan class="sl" dy="2">q2</tspan></text>
<text class="v" x="805" y="381">u<tspan class="sl" dy="2">d2</tspan></text>
<text class="rr" x="979" y="55">L<tspan class="sl" dy="2">2</tspan></text>
<text class="rr" x="1137.700" y="64">R<tspan class="sl" dy="2">2</tspan></text>
<text x="988" y="103" style="font-size:14px;font-style:italic;font-weight:normal">i<tspan style="font-size:11px;font-style:normal" dy="1">2</tspan></text>
<text class="v" x="1190.700" y="45">u<tspan class="sl" dy="2">s2</tspan></text>
<text class="v" x="244" y="184" style="font-size:14px">Q<tspan class="su" dy="-6">*</tspan><tspan class="su" dx="-3" dy="9">1</tspan></text>
<text class="v" x="514" y="134" style="font-size:11px">u<tspan class="sl" dy="2">d1max</tspan></text>
<text class="v" x="496" y="186" style="font-size:11px">u<tspan class="sl" dy="2">d1min</tspan></text>
<text class="p" x="440" y="138.500">+</text><text class="p" x="414.500" y="150">+</text><text class="p" x="421" y="191.500">+</text><text class="p" x="446.500" y="189.500">-</text>
<text class="v" x="161" y="284" style="font-size:13px">Q<tspan class="sl" dy="2">1</tspan></text>
<text class="v" x="207" y="347" style="font-size:14px">Q&#770;<tspan class="sl" dy="2">1</tspan></text>
<text class="psi" x="458" y="254">&#936;&#770;<tspan class="psb" dy="2">r1</tspan><tspan class="psp" dy="-2">(·)</tspan></text>
<text class="p" x="416.700" y="291.500">+</text><text class="p" x="455" y="298.500">+</text><text class="p" x="409" y="321.500">+</text>
<text class="v" x="87.300" y="490" style="font-size:13px">V<tspan class="su" dy="-6">*</tspan><tspan class="sl" dx="-3" dy="8">dc1</tspan></text>
<text class="v" x="508" y="443" style="font-size:11px">u<tspan class="sl" dy="2">q1max</tspan></text>
<text class="v" x="484" y="496" style="font-size:11px">u<tspan class="sl" dy="2">q1min</tspan></text>
<text class="p" x="414" y="436.500">+</text><text class="p" x="398.700" y="452.500">+</text><text class="p" x="396.700" y="480">+</text><text class="p" x="409.300" y="492">-</text>
<text class="v" x="91" y="594" style="font-size:13px">V<tspan class="sl" dy="2">dc1</tspan></text>
<text class="v" x="146" y="687" style="font-size:13px">V&#770;<tspan class="sl" dy="2">dc1</tspan></text>
<text class="psi" x="446" y="563">&#936;&#770;<tspan class="psb" dy="2">r2</tspan><tspan class="psp" dy="-2">(·)</tspan></text>
<text class="p" x="412.300" y="592.500">+</text><text class="p" x="442.700" y="601">+</text><text class="p" x="403.300" y="623.500">+</text>
<text class="v" x="1160" y="161" style="font-size:14px">Q<tspan class="su" dy="-6">*</tspan><tspan class="su" dx="-3" dy="9">2</tspan></text>
<text class="v" x="920" y="154" style="font-size:11px">u<tspan class="sl" dy="2">d2max</tspan></text>
<text class="v" x="899" y="205" style="font-size:11px">u<tspan class="sl" dy="2">d2min</tspan></text>
<text class="p" x="966" y="158.500">+</text><text class="p" x="996.700" y="167.500">+</text><text class="p" x="998.700" y="186">+</text><text class="p" x="983.300" y="196">-</text>
<text class="v" x="1204.300" y="221" style="font-size:13px">Q<tspan class="sl" dy="2">2</tspan></text>
<text class="psi" x="957.700" y="271">&#936;&#770;<tspan class="psb" dy="2">i1</tspan><tspan class="psp" dy="-2">(·)</tspan></text>
<text class="p" x="968" y="301.500">+</text><text class="p" x="999" y="309.500">+</text><text class="p" x="954.300" y="330">+</text><text class="p" x="1000.700" y="331">+</text>
<text class="v" x="1171.700" y="371" style="font-size:14px">Q&#770;<tspan class="sl" dy="2">2</tspan></text>
<text class="v" x="1162.700" y="478" style="font-size:14px">P<tspan class="su" dy="-6">*</tspan><tspan class="su" dx="-3" dy="9">2</tspan></text>
<text class="v" x="923" y="469" style="font-size:11px">u<tspan class="sl" dy="2">q2max</tspan></text>
<text class="v" x="902" y="521" style="font-size:11px">u<tspan class="sl" dy="2">q2min</tspan></text>
<text class="p" x="971.700" y="475">+</text><text class="p" x="1001" y="484">-</text><text class="p" x="1000.700" y="504">-</text><text class="p" x="989" y="515.500">-</text>
<text class="v" x="1235.700" y="592" style="font-size:14px">P<tspan class="sl" dy="2">2</tspan></text>
<text class="psi" x="959" y="591">&#936;&#770;<tspan class="psb" dy="2">i2</tspan><tspan class="psp" dy="-2">(·)</tspan></text>
<text class="p" x="971.700" y="621">+</text><text class="p" x="1002.300" y="628.500">+</text><text class="p" x="959.300" y="650">+</text><text class="p" x="1004" y="651.500">+</text>
<text class="v" x="1173" y="689" style="font-size:14px">P&#770;<tspan class="sl" dy="2">2</tspan></text>
</g>
</svg>
